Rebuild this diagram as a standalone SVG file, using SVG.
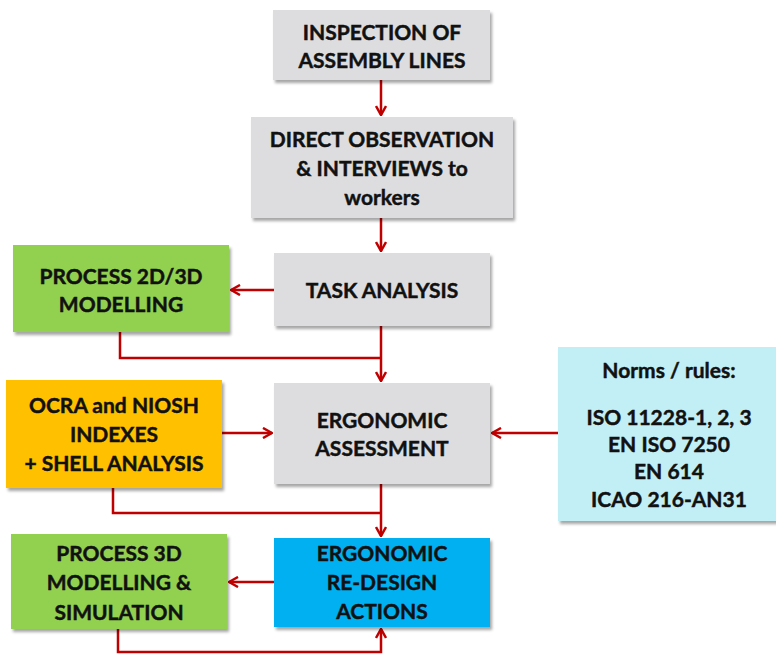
<svg xmlns="http://www.w3.org/2000/svg" width="776" height="654" viewBox="0 0 776 654">
<style>
.box{stroke:none;filter:url(#sh)}
.gray{fill:#DDDDDF}
.green{fill:#92D050}
.orange{fill:#FFC000}
.blue{fill:#00B0F0}
.lblue{fill:#C2EFF6}
text{font-family:Lato,"Liberation Sans",Arial,sans-serif;font-weight:bold;font-size:21px;fill:#111;stroke:#111;stroke-width:0.45;text-anchor:middle}
.c{fill:none;stroke:#C00000;stroke-width:2.5}
</style>
<defs>
<filter id="sh" x="-10%" y="-10%" width="130%" height="130%">
<feDropShadow dx="2" dy="3" stdDeviation="1.8" flood-color="#000" flood-opacity="0.35"/>
</filter>
<marker id="ah" viewBox="0 0 12 12" refX="11" refY="6" markerWidth="12" markerHeight="12" markerUnits="userSpaceOnUse" orient="auto">
<path d="M2,1 L11,6 L2,11" fill="none" stroke="#C00000" stroke-width="2.5"/>
</marker>
</defs>
<g id="connectors">
<path class="c" d="M381,80 V115" marker-end="url(#ah)"/>
<path class="c" d="M381,218 V251" marker-end="url(#ah)"/>
<path class="c" d="M274,290 H231" marker-end="url(#ah)"/>
<path class="c" d="M381,326 V381" marker-end="url(#ah)"/>
<path class="c" d="M120,332 V358 H381"/>
<path class="c" d="M222,433 H272" marker-end="url(#ah)"/>
<path class="c" d="M558,433 H492" marker-end="url(#ah)"/>
<path class="c" d="M381,484 V536" marker-end="url(#ah)"/>
<path class="c" d="M113,488 V513 H381"/>
<path class="c" d="M274,582 H229" marker-end="url(#ah)"/>
<path class="c" d="M118,629 V652 H381 V629" marker-end="url(#ah)"/>
</g>
<g id="inspection">
<rect class="box gray" x="273" y="10" width="217" height="70"/>
<text x="382" y="40">INSPECTION OF</text>
<text x="382" y="68">ASSEMBLY LINES</text>
</g>
<g id="observation">
<rect class="box gray" x="251" y="117" width="262" height="101"/>
<text x="382" y="147">DIRECT OBSERVATION</text>
<text x="382" y="176">&amp; INTERVIEWS to</text>
<text x="382" y="205">workers</text>
</g>
<g id="modelling2d3d">
<rect class="box green" x="13" y="245" width="216" height="87"/>
<text x="121" y="284">PROCESS 2D/3D</text>
<text x="121" y="312">MODELLING</text>
</g>
<g id="task">
<rect class="box gray" x="274" y="253" width="216" height="73"/>
<text x="382" y="298">TASK ANALYSIS</text>
</g>
<g id="ocra">
<rect class="box orange" x="6" y="380" width="216" height="108"/>
<text x="114" y="413">OCRA and NIOSH</text>
<text x="114" y="442">INDEXES</text>
<text x="114" y="471">+ SHELL ANALYSIS</text>
</g>
<g id="assessment">
<rect class="box gray" x="274" y="383" width="216" height="101"/>
<text x="382" y="428">ERGONOMIC</text>
<text x="382" y="456">ASSESSMENT</text>
</g>
<g id="norms">
<rect class="box lblue" x="558" y="347" width="220" height="174"/>
<text x="669" y="378">Norms / rules:</text>
<text x="669" y="425">ISO 11228-1, 2, 3</text>
<text x="669" y="452">EN ISO 7250</text>
<text x="669" y="479">EN 614</text>
<text x="669" y="507">ICAO 216-AN31</text>
</g>
<g id="modelling3d">
<rect class="box green" x="11" y="534" width="216" height="95"/>
<text x="119" y="561">PROCESS 3D</text>
<text x="119" y="590">MODELLING &amp;</text>
<text x="119" y="620">SIMULATION</text>
</g>
<g id="redesign">
<rect class="box blue" x="274" y="538" width="216" height="89"/>
<text x="382" y="561">ERGONOMIC</text>
<text x="382" y="590">RE-DESIGN</text>
<text x="382" y="619">ACTIONS</text>
</g>
</svg>
